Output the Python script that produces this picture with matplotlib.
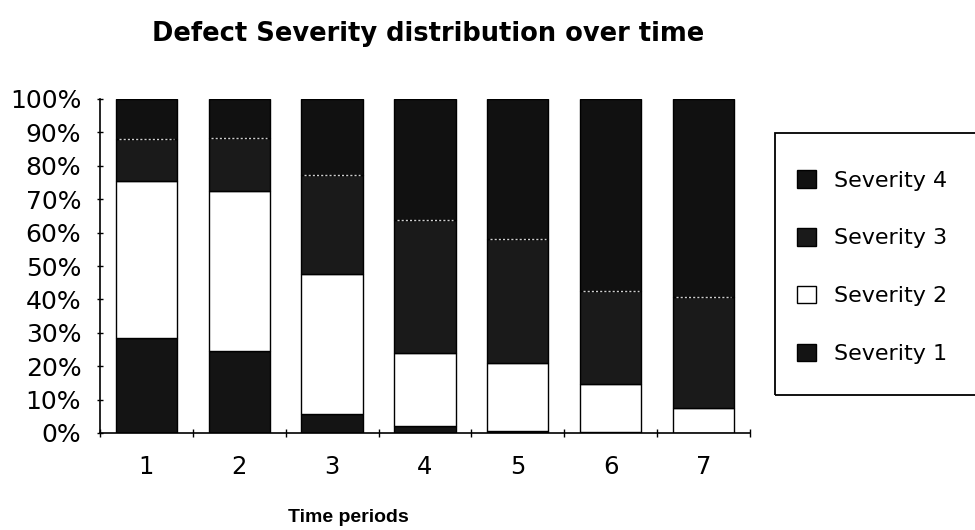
import matplotlib
matplotlib.use("Agg")
import matplotlib.pyplot as plt
import numpy as np
from matplotlib.ticker import PercentFormatter, MultipleLocator
from matplotlib.patches import Patch, Rectangle

plt.rcParams['font.family'] = ['DejaVu Sans']

periods = ['1', '2', '3', '4', '5', '6', '7']
# share of defects per severity level, in percent of each period
sev1 = [28.4, 24.7, 5.8, 2.2, 0.5, 0.3, 0.0]
sev2 = [47.0, 47.9, 41.8, 21.9, 20.4, 14.4, 7.5]
sev3 = [12.7, 15.6, 29.5, 39.8, 37.3, 27.9, 33.1]
sev4 = [11.9, 11.8, 22.9, 36.1, 41.8, 57.4, 59.4]

colors = {'Severity 1': '#141414', 'Severity 2': 'white',
          'Severity 3': '#1a1a1a', 'Severity 4': '#111111'}

W, H = 975, 530
fig = plt.figure(figsize=(W / 100, H / 100), dpi=100)
ax = fig.add_axes([100/W, 1 - 433/H, 650/W, 334/H])

x = np.arange(len(periods))
w = 0.66
bottom = np.zeros(len(periods))
for name, vals in [('Severity 1', sev1), ('Severity 2', sev2),
                   ('Severity 3', sev3), ('Severity 4', sev4)]:
    vals = np.array(vals)
    ax.bar(x, vals, w, bottom=bottom, color=colors[name],
           edgecolor='black', linewidth=1.0, zorder=2)
    bottom = bottom + vals

# dotted light line between severity 3 and 4
top3 = np.array(sev1) + np.array(sev2) + np.array(sev3)
ax.hlines(top3, x - w/2 + 0.03, x + w/2 - 0.03, colors='#d0d0d0',
          linestyles=(0, (1.5, 1.5)), linewidth=1.0, zorder=3)

ax.set_xlim(-0.5, len(periods) - 0.5)
ax.set_ylim(0, 100)
ax.spines['top'].set_visible(False)
ax.spines['right'].set_visible(False)
for s in ['left', 'bottom']:
    ax.spines[s].set_linewidth(1.2)

ax.yaxis.set_major_locator(MultipleLocator(10))
ax.yaxis.set_major_formatter(PercentFormatter(decimals=0))
ax.tick_params(axis='y', direction='inout', length=5, width=1,
               labelsize=18, pad=11)

# ticks between categories, labels centred under bars
ax.set_xticks(np.arange(len(periods) + 1) - 0.5)
ax.set_xticklabels([])
ax.set_xticks(x, minor=True)
ax.set_xticklabels(periods, minor=True)
ax.tick_params(axis='x', which='major', direction='inout', length=6, width=1)
ax.tick_params(axis='x', which='minor', length=0, labelsize=17.5, pad=16)

fig.text(348/W, 1 - 517/H, 'Time periods', ha='center', va='center',
         fontsize=14, fontweight='bold', family='Liberation Sans')
fig.text(428/W, 1 - 34/H, 'Defect Severity distribution over time',
         ha='center', va='center', fontsize=18.5, fontweight='bold')

# legend frame runs off the right edge
fig.patches.append(Rectangle((775/W, 1 - 395/H), 220/W, 262/H,
                             transform=fig.transFigure, fill=False,
                             edgecolor='black', linewidth=1.3))
handles = [Patch(facecolor=colors[n], edgecolor='black', label=n)
           for n in ['Severity 4', 'Severity 3', 'Severity 2', 'Severity 1']]
fig.legend(handles=handles, loc='upper left',
           bbox_to_anchor=(797/W, 1 - 170/H), fontsize=16, frameon=False,
           labelspacing=1.68, handlelength=0.85, handleheight=0.85,
           handletextpad=0.8, borderpad=0, borderaxespad=0)

fig.savefig('out.png', dpi=100)
